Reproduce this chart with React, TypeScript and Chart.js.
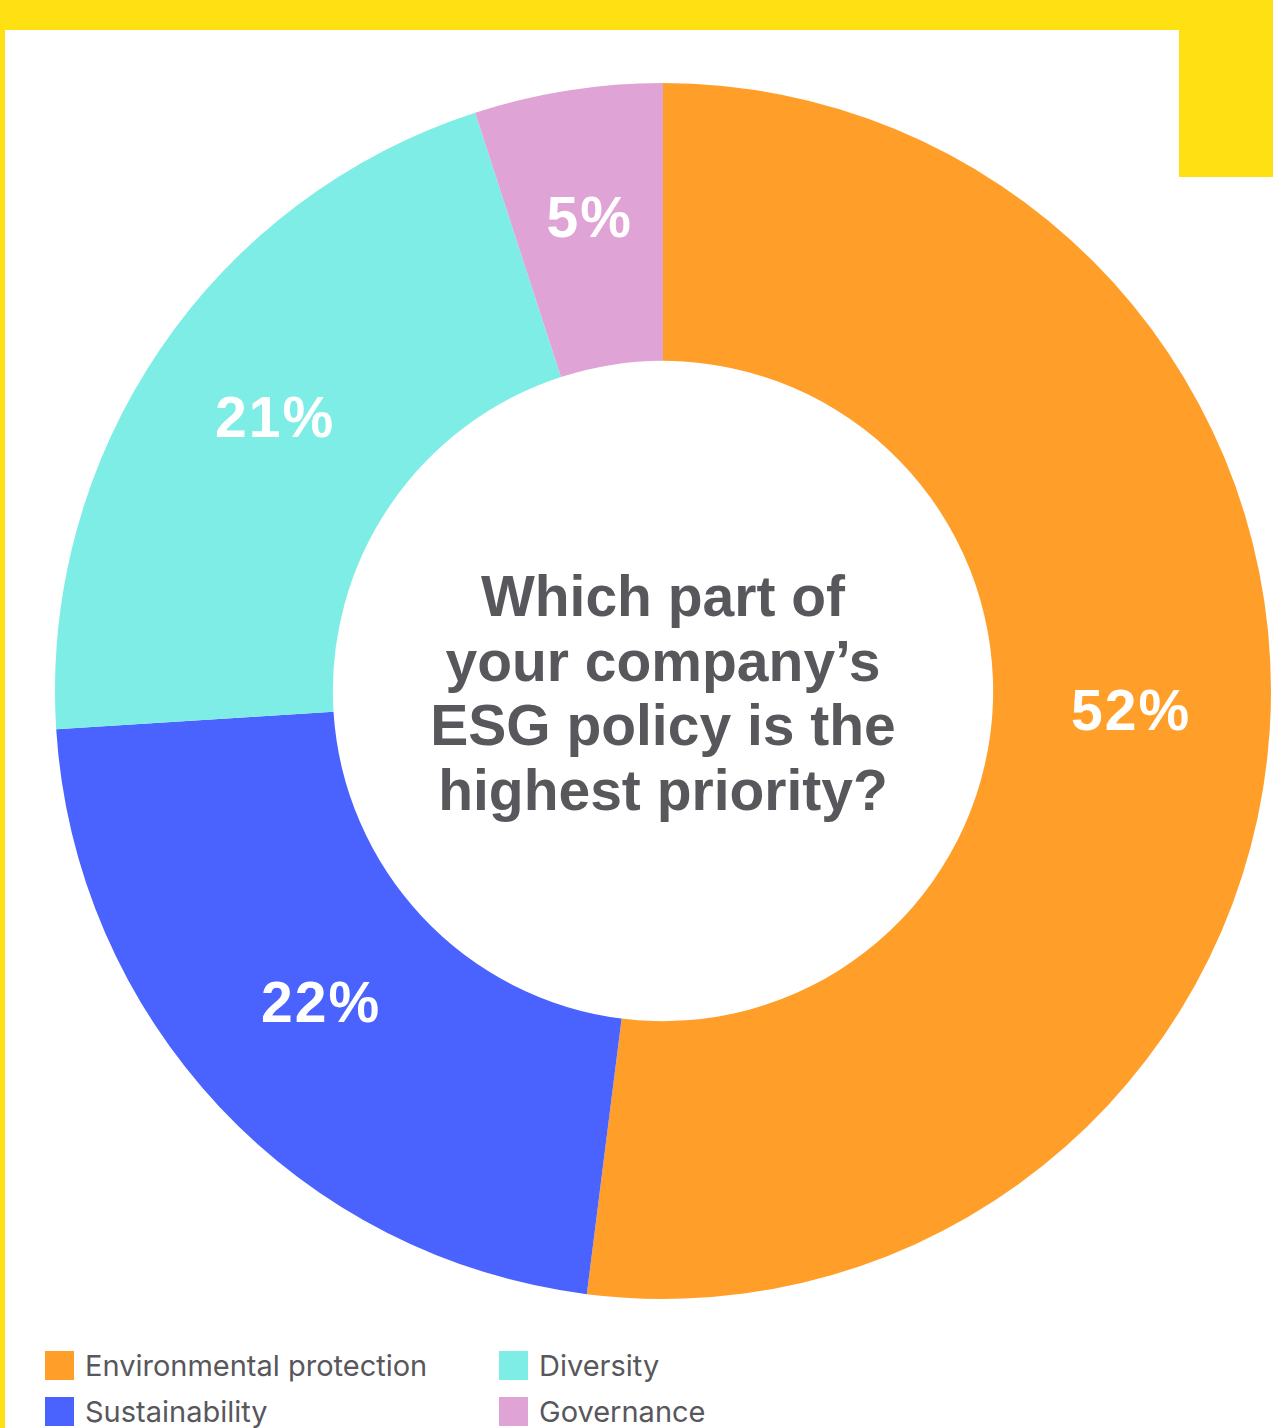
import React, { useEffect, useRef } from "react";
import { Chart, registerables } from "chart.js";

Chart.register(...registerables);

const categories = ["Environmental protection", "Sustainability", "Diversity", "Governance"];
const values = [52, 22, 21, 5];
const colors = ["#FF9F2A", "#4A63FF", "#7EEDE6", "#DFA3D6"];
const legendOrder = [0, 2, 1, 3];
const titleLines = ["Which part of", "your company\u2019s", "ESG policy is the", "highest priority?"];

const YELLOW = "#FFE012";
const TEXT = "#58575C";

const centerTextPlugin = {
  id: "centerText",
  afterDatasetsDraw(chart: any) {
    const { ctx } = chart;
    const meta = chart.getDatasetMeta(0);
    ctx.save();
    // slice labels
    ctx.font = "bold 57px 'Liberation Sans', Arial, sans-serif";
    try {
      (ctx as any).letterSpacing = "2px";
    } catch (e) {}
    ctx.fillStyle = "#FFFFFF";
    ctx.textAlign = "center";
    ctx.textBaseline = "middle";
    meta.data.forEach((arc: any, i: number) => {
      const p = arc.getCenterPoint();
      ctx.fillText(values[i] + "%", p.x, p.y - 6);
    });
    try {
      (ctx as any).letterSpacing = "0px";
    } catch (e) {}
    // center title
    const first = meta.data[0];
    const cx = first.x;
    const cy = first.y;
    ctx.font = "bold 57px 'Liberation Sans', Arial, sans-serif";
    ctx.fillStyle = TEXT;
    ctx.textBaseline = "alphabetic";
    const lh = 64.5;
    const cap = 44;
    titleLines.forEach((t, i) => {
      const y = cy + (i - (titleLines.length - 1) / 2) * lh + cap / 2;
      ctx.fillText(t, cx, y);
    });
    ctx.restore();
  },
};

export default function App() {
  const ref = useRef<HTMLCanvasElement | null>(null);
  useEffect(() => {
    if (!ref.current) return;
    const chart = new Chart(ref.current, {
      type: "doughnut",
      data: {
        labels: categories,
        datasets: [
          {
            data: values,
            backgroundColor: colors,
            borderWidth: 0,
          },
        ],
      },
      options: {
        responsive: false,
        animation: false,
        cutout: "54.3%",
        layout: { padding: 0 },
        plugins: {
          legend: { display: false },
          tooltip: { enabled: false },
        },
      },
      plugins: [centerTextPlugin],
    });
    return () => chart.destroy();
  }, []);

  return (
    <div
      style={{
        position: "absolute",
        left: 0,
        top: 0,
        width: 1273,
        height: 1428,
        overflow: "hidden",
        background: "#FFFFFF",
      }}
    >
      <canvas
        ref={ref}
        width={1216}
        height={1216}
        style={{ position: "absolute", left: 55, top: 83, width: 1216, height: 1216 }}
      />
      <div style={{ position: "absolute", left: 0, top: 0, width: 1273, height: 30, background: YELLOW }} />
      <div style={{ position: "absolute", left: 0, top: 0, width: 5, height: 1428, background: YELLOW }} />
      <div style={{ position: "absolute", left: 1179, top: 0, width: 94, height: 177, background: YELLOW }} />
      {legendOrder.map((idx, k) => {
        const col = k % 2;
        const row = Math.floor(k / 2);
        const left = col === 0 ? 45 : 499;
        const top = 1351 + row * 46;
        return (
          <div key={idx} style={{ position: "absolute", left, top, height: 29, display: "flex", alignItems: "center" }}>
            <div style={{ width: 29, height: 29, background: colors[idx], flex: "none" }} />
            <span
              style={{
                marginLeft: 11,
                fontFamily: "Inter, 'Liberation Sans', sans-serif",
                fontSize: 29,
                lineHeight: "29px",
                color: TEXT,
                whiteSpace: "nowrap",
              }}
            >
              {categories[idx]}
            </span>
          </div>
        );
      })}
    </div>
  );
}
